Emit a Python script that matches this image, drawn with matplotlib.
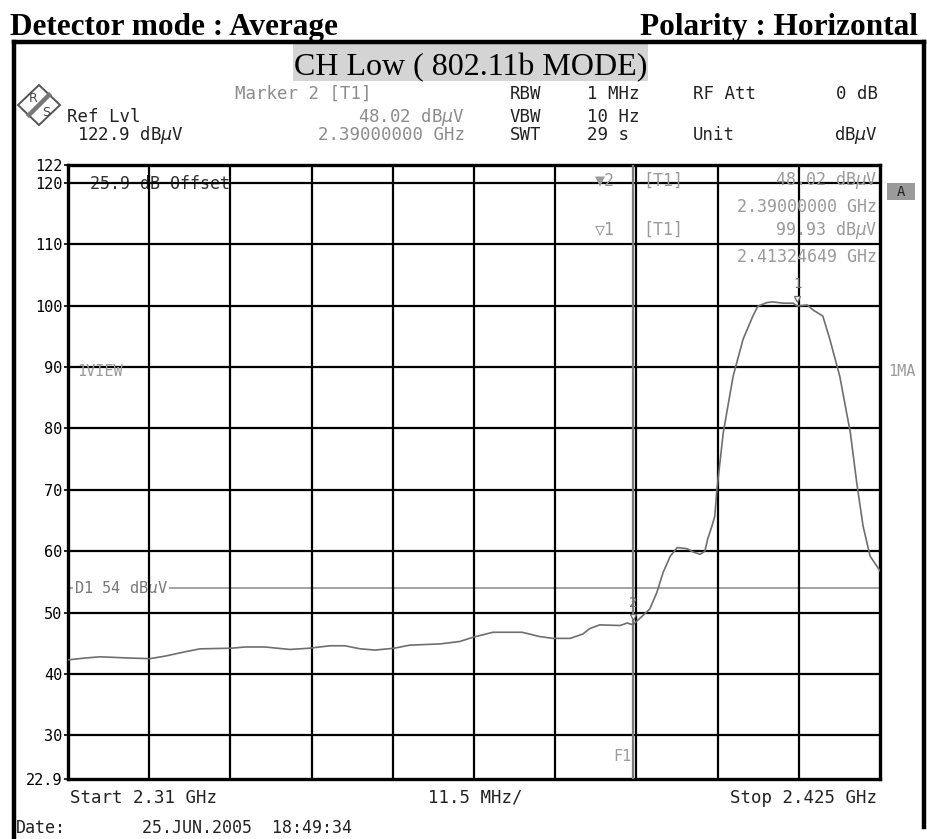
import numpy as np
import matplotlib.pyplot as plt
from matplotlib.lines import Line2D
from matplotlib.patches import Rectangle, Polygon

## sweep settings
f_start = 2.31      # GHz
f_stop = 2.425      # GHz
ref_lvl = 122.9     # dBuV, top of screen
range_db = 100.0    # 10 dB/div
d1_level = 54.0     # display line D1
f1_freq = 2.39      # frequency line F1

## trace (MHz, dBuV)
trace_mhz = [2310.0, 2312.4, 2314.5, 2318.8, 2321.6, 2323.7, 2326.5, 2328.7, 2333.1, 2335.1,
             2337.9, 2341.4, 2344.2, 2347.1, 2349.2, 2351.4, 2353.5, 2356.2, 2358.4, 2362.7,
             2365.5, 2367.4, 2370.2, 2374.3, 2376.8, 2378.7, 2381.1, 2382.9, 2383.9, 2385.3,
             2388.2, 2389.2, 2390.0, 2391.4, 2392.4, 2393.4, 2394.3, 2395.3, 2396.3, 2397.7,
             2398.5, 2399.5, 2400.2, 2400.6, 2401.2, 2401.6, 2401.9, 2402.8, 2404.2, 2405.6,
             2407.0, 2407.7, 2409.0, 2409.8, 2411.3, 2412.7, 2413.25, 2414.7, 2415.5, 2416.9,
             2417.9, 2419.3, 2420.8, 2421.7, 2422.6, 2423.6, 2425.0]
trace_db = [42.3, 42.6, 42.8, 42.6, 42.5, 42.9, 43.6, 44.1, 44.2, 44.4,
            44.4, 44.0, 44.2, 44.6, 44.6, 44.1, 43.9, 44.2, 44.7, 44.9,
            45.3, 46.0, 46.8, 46.8, 46.1, 45.8, 45.8, 46.5, 47.4, 48.0,
            47.9, 48.3, 48.02, 49.5, 50.6, 53.3, 56.6, 59.2, 60.6, 60.4,
            59.9, 59.5, 60.0, 62.0, 64.1, 65.7, 70.0, 79.3, 88.5, 94.5,
            98.3, 99.9, 100.5, 100.6, 100.4, 100.4, 99.93, 100.1, 99.3, 98.3,
            94.5, 88.5, 79.3, 71.2, 64.1, 59.2, 56.8]

## markers
marker_names = ["1", "2"]
marker_freq = [2.41324649, 2.39000000]   # GHz
marker_lvl = [99.93, 48.02]               # dBuV

## y tick labels
ytick_vals = [22.9, 30, 40, 50, 60, 70, 80, 90, 100, 110, 120, 122.9]
ytick_txt = ["22.9", "30", "40", "50", "60", "70", "80", "90", "100", "110", "120", "122"]

W, H = 927, 839
def fx(x):
	return x / W
def fy(y):
	return 1 - y / H

mono = ["DejaVu Sans Mono", "DejaVu Sans"]
serif = "Liberation Serif"
grey_txt = "#9a9a9a"
trace_col = "#6e6e6e"

fig = plt.figure(figsize=(W / 100, H / 100), dpi=100)
fig.patch.set_facecolor("white")

# plot area in pixels: left 68, top 165, right 880, bottom 779
ax = fig.add_axes([fx(68), fy(779), 812 / W, 614 / H])
ax.set_xlim(f_start, f_stop)
ax.set_ylim(ref_lvl - range_db, ref_lvl)
ax.set_xticks([])
ax.set_yticks(ytick_vals)
ax.set_yticklabels(ytick_txt, fontfamily=mono, fontsize=11)
ax.tick_params(axis="y", length=3, width=1.2, pad=1)
for sp in ax.spines.values():
	sp.set_linewidth(2.4)
	sp.set_color("black")

def px_to_f(x):
	# pixel column inside the screen -> frequency
	return f_start + (f_stop - f_start) * (x - 68) / 812

# graticule
for gx in np.linspace(f_start, f_stop, 11)[1:-1]:
	ax.axvline(gx, color="black", lw=1.6, zorder=3)
for gy in ytick_vals[1:-1]:
	ax.axhline(gy, color="black", lw=1.6, zorder=3)

# F1 frequency line
ax.axvline(f1_freq, color="#7a7a7a", lw=1.6, zorder=3)
ax.text(f1_freq - 0.0002, 26.5, "F1", ha="right", va="center", color=grey_txt,
        fontfamily=mono, fontsize=11, zorder=4)

# D1 display line with label
ax.axhline(d1_level, color="#8a8a8a", lw=1.1, zorder=1)
ax.text(px_to_f(74), d1_level, "D1 54 dB$\\mu$V", ha="left", va="center",
        color="#777777", fontfamily=mono, fontsize=11, zorder=2,
        bbox=dict(facecolor="white", edgecolor="none", pad=1))

# measured trace
ax.plot(np.array(trace_mhz) / 1000.0, trace_db, color=trace_col, lw=1.2, zorder=5)

# marker symbols on the trace
for name, mf, ml in zip(marker_names, marker_freq, marker_lvl):
	ax.plot(mf, ml + 1.2, marker="v", ms=5, mfc="white", mec=trace_col, mew=0.9, zorder=6)
	ax.text(mf, ml + 2.4, name, ha="center", va="bottom", color=trace_col,
	        fontfamily=mono, fontsize=10, zorder=6)

# marker info block inside the screen
info_x = px_to_f(877)
info = dict(color=grey_txt, fontfamily=mono, fontsize=12, zorder=4, va="center")
ax.text(px_to_f(615), 120.4, "\u25bc2", ha="right", **info)
ax.text(px_to_f(643), 120.4, "[T1]", ha="left", **info)
ax.text(info_x, 120.4, "48.02 dB$\\mu$V", ha="right", **info)
ax.text(info_x, 116.1, "2.39000000 GHz", ha="right", **info)
ax.text(px_to_f(615), 112.3, "\u25bd1", ha="right", **info)
ax.text(px_to_f(643), 112.3, "[T1]", ha="left", **info)
ax.text(info_x, 112.3, "99.93 dB$\\mu$V", ha="right", **info)
ax.text(info_x, 107.9, "2.41324649 GHz", ha="right", **info)

ax.text(px_to_f(90), 119.8, "25.9 dB Offset", ha="left", va="center",
        color="#333333", fontfamily=mono, fontsize=12, zorder=2)
ax.text(px_to_f(77), 89.2, "1VIEW", ha="left", va="center",
        color=grey_txt, fontfamily=mono, fontsize=11, zorder=4)

# outer frame (open at the bottom)
frame_kw = dict(color="black", lw=3.2, solid_capstyle="projecting")
fig.add_artist(Line2D([fx(14), fx(14)], [fy(42), fy(839)], **frame_kw))
fig.add_artist(Line2D([fx(14), fx(924)], [fy(42), fy(42)], **frame_kw))
fig.add_artist(Line2D([fx(924), fx(924)], [fy(42), fy(827)], **frame_kw))

# page headings
fig.text(fx(10), fy(35), "Detector mode : Average", ha="left", va="baseline",
         fontfamily=serif, fontweight="bold", fontsize=22.5)
fig.text(fx(918), fy(35), "Polarity : Horizontal", ha="right", va="baseline",
         fontfamily=serif, fontweight="bold", fontsize=22.5)
fig.add_artist(Rectangle((fx(293), fy(81)), (648 - 293) / W, 38 / H,
                         facecolor="#d4d4d4", edgecolor="none", transform=fig.transFigure))
fig.text(fx(471), fy(75), "CH Low ( 802.11b MODE)", ha="center", va="baseline",
         fontfamily=serif, fontsize=23)

# R&S logo
lx, ly, rx, ry = 39, 105, 21, 20
fig.add_artist(Polygon([[fx(lx - rx), fy(ly)], [fx(lx), fy(ly - ry)], [fx(lx + rx), fy(ly)], [fx(lx), fy(ly + ry)]],
                       closed=True, facecolor="white", edgecolor="#555555", lw=1.4,
                       transform=fig.transFigure))
fig.add_artist(Line2D([fx(lx - 10), fx(lx + 10)], [fy(ly + 10), fy(ly - 10)], color="#777777", lw=3.2))
fig.text(fx(lx - 6), fy(ly - 6), "R", ha="center", va="center", fontsize=9, color="#444444")
fig.text(fx(lx + 7), fy(ly + 7), "S", ha="center", va="center", fontsize=9, color="#444444")

# instrument settings
hdr = dict(fontfamily=mono, fontsize=12.5, va="center")
fig.text(fx(235), fy(94), "Marker 2 [T1]", ha="left", color="#8c8c8c", **hdr)
fig.text(fx(465), fy(117), "48.02 dB$\\mu$V", ha="right", color="#8c8c8c", **hdr)
fig.text(fx(465), fy(135), "2.39000000 GHz", ha="right", color="#8c8c8c", **hdr)
fig.text(fx(67), fy(117), "Ref Lvl", ha="left", color="#222222", **hdr)
fig.text(fx(77), fy(135), "122.9 dB$\\mu$V", ha="left", color="#222222", **hdr)
fig.text(fx(510), fy(94), "RBW", ha="left", color="#222222", **hdr)
fig.text(fx(510), fy(117), "VBW", ha="left", color="#222222", **hdr)
fig.text(fx(510), fy(135), "SWT", ha="left", color="#222222", **hdr)
fig.text(fx(587), fy(94), "1 MHz", ha="left", color="#222222", **hdr)
fig.text(fx(587), fy(117), "10 Hz", ha="left", color="#222222", **hdr)
fig.text(fx(587), fy(135), "29 s", ha="left", color="#222222", **hdr)
fig.text(fx(693), fy(94), "RF Att", ha="left", color="#222222", **hdr)
fig.text(fx(693), fy(135), "Unit", ha="left", color="#222222", **hdr)
fig.text(fx(878), fy(94), "0 dB", ha="right", color="#222222", **hdr)
fig.text(fx(878), fy(135), "dB$\\mu$V", ha="right", color="#222222", **hdr)

# right side annotations
fig.add_artist(Rectangle((fx(887), fy(200)), 28 / W, 17 / H, facecolor="#9a9a9a",
                         edgecolor="none", transform=fig.transFigure))
fig.text(fx(901), fy(191.5), "A", ha="center", va="center", fontfamily=mono, fontsize=10,
         color="#222222")
fig.text(fx(888), fy(372), "1MA", ha="left", va="center", fontfamily=mono, fontsize=11,
         color=grey_txt)

# footer
fig.text(fx(70), fy(798), "Start 2.31 GHz", ha="left", **hdr, color="#222222")
fig.text(fx(475), fy(798), "11.5 MHz/", ha="center", **hdr, color="#222222")
fig.text(fx(877), fy(798), "Stop 2.425 GHz", ha="right", **hdr, color="#222222")
foot = dict(fontfamily=mono, fontsize=12, va="center", color="#222222")
fig.text(fx(16), fy(828), "Date:", ha="left", **foot)
fig.text(fx(142), fy(828), "25.JUN.2005  18:49:34", ha="left", **foot)

fig.savefig("out.png", dpi=100)
